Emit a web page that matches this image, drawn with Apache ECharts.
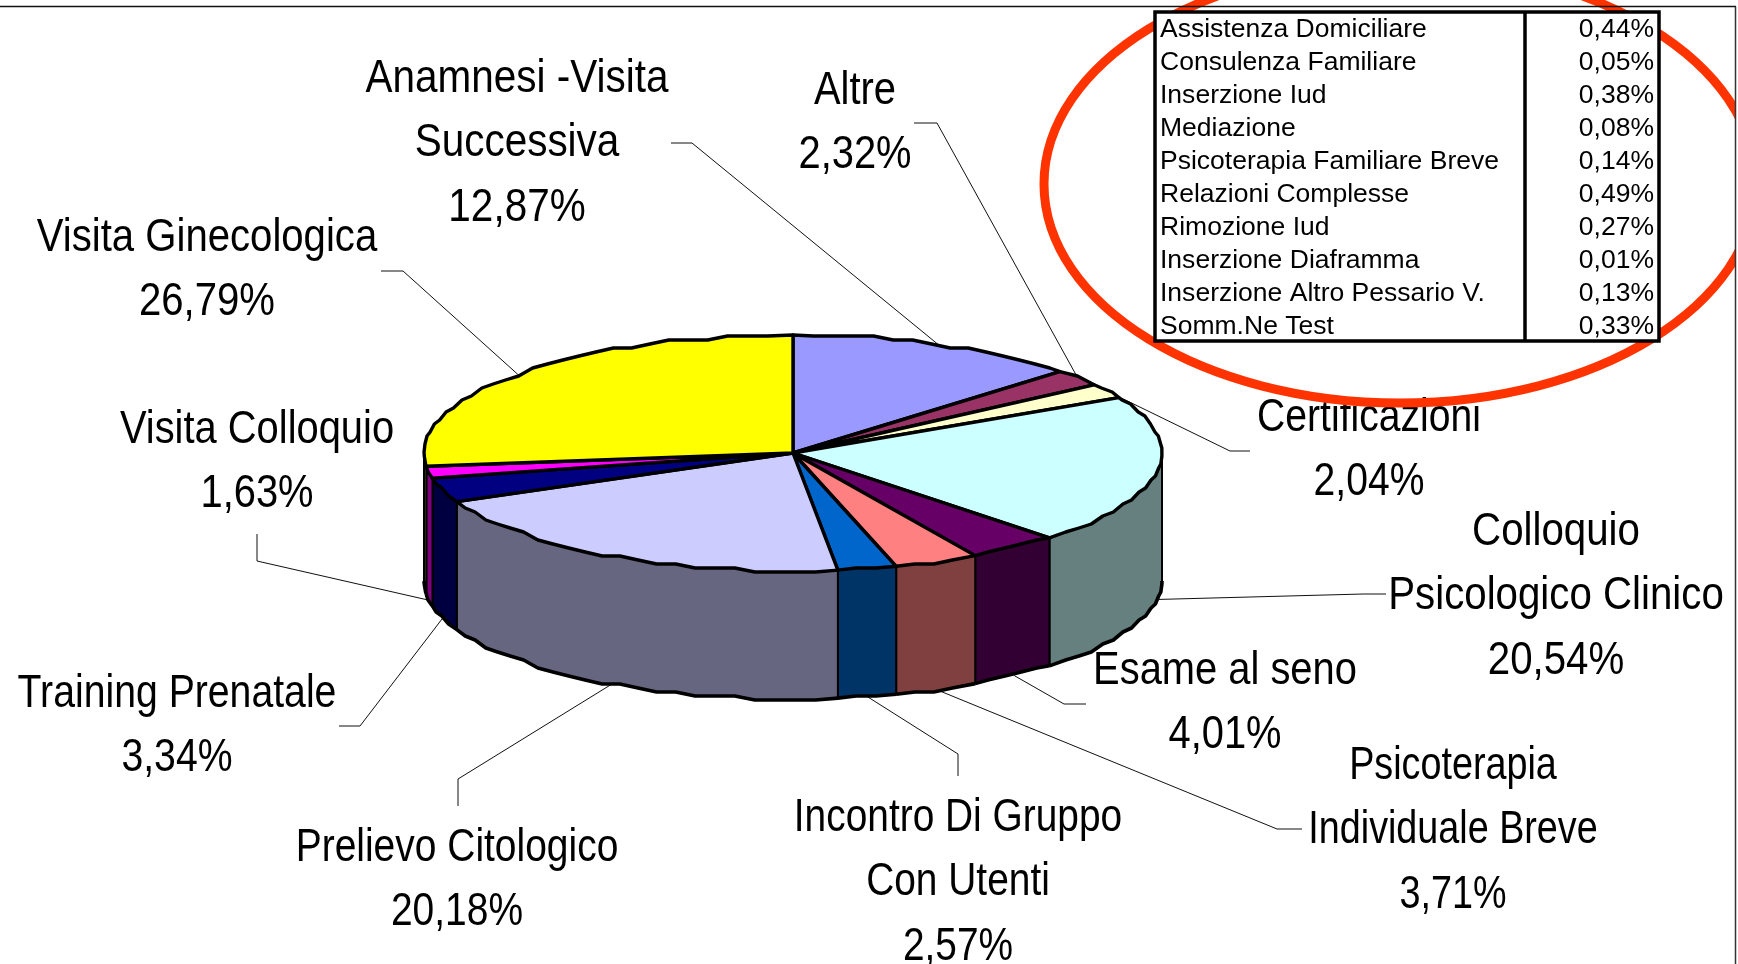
<!DOCTYPE html>
<html>
<head>
<meta charset="utf-8">
<style>html,body{margin:0;padding:0;background:#fff}#c{width:1738px;height:964px}</style>
<script src="https://cdn.jsdelivr.net/npm/echarts@6/dist/echarts.min.js"></script>
</head>
<body>
<div id="c"></div>
<script>
// ---- data ----
const categories = ['Anamnesi -Visita\nSuccessiva','Altre','Certificazioni','Colloquio\nPsicologico Clinico','Esame al seno','Psicoterapia\nIndividuale Breve','Incontro Di Gruppo\nCon Utenti','Prelievo Citologico','Training Prenatale','Visita Colloquio','Visita Ginecologica'];
const seriesValues = [12.87,2.32,2.04,20.54,4.01,3.71,2.57,20.18,3.34,1.63,26.79];
const sliceColors = ['#9999FF','#993366','#FFFFCC','#CCFFFF','#660066','#FF8080','#0066CC','#CCCCFF','#000080','#FF00FF','#FFFF00'];
const tableNames = ['Assistenza Domiciliare','Consulenza Familiare','Inserzione Iud','Mediazione','Psicoterapia Familiare Breve','Relazioni Complesse','Rimozione Iud','Inserzione Diaframma','Inserzione Altro Pessario V.','Somm.Ne Test'];
const tableValues = [0.44,0.05,0.38,0.08,0.14,0.49,0.27,0.01,0.13,0.33];

// ---- layout only ----
const PIE = {cx:793, cy:453, rx:369, ry:118, depth:128};
const labelCx = [517,855,1369,1556,1225,1453,958,457,177,257,207];
const labelBase = [102,114,441,555,694,789,841,871,717,453,261];
const labelScale = [.88,.867,.85,.875,.867,.82,.845,.847,.852,.867,.872];
const elbows = [
  [[692,143],[671,143]],
  [[937,123],[914,123]],
  [[1230,451],[1250,451]],
  [[1363,594],[1386,594]],
  [[1064,704],[1086,704]],
  [[1277,829],[1302,829]],
  [[958,754],[958,776]],
  [[458,779],[458,806]],
  [[360,726],[339,726]],
  [[257,561],[257,534]],
  [[403,271],[381,271]]
];
const LABEL_FONT = 46, LABEL_PITCH = 64.5;
const ARC_STEP = 0.055, STEP_Y = 4;

const fmt = v => v.toFixed(2).replace('.', ',') + '%';
const total = seriesValues.reduce((a,b)=>a+b,0);
const starts = [];
seriesValues.reduce((acc,v,i)=>{starts[i]=acc;return acc+v;},0);
const toAng = p => p/total*2*Math.PI;
const rim = (a,dz) => [PIE.cx+PIE.rx*Math.sin(a), PIE.cy-PIE.ry*Math.cos(a)+(dz||0)];
const darken = h => {
  const n=parseInt(h.slice(1),16);
  const c=[(n>>16)&255,(n>>8)&255,n&255].map(x=>Math.round(x/2));
  return 'rgb('+c.join(',')+')';
};
// rim arc, faceted and snapped in y to reproduce the stepped outline of the original
function arc(a0,a1,dz){
  const pts=[rim(a0,dz)];
  let k=Math.ceil(a0/ARC_STEP+0.3);
  while(k*ARC_STEP<a1-0.02){
    const p=rim(k*ARC_STEP,dz);
    pts.push([p[0],Math.round(p[1]/STEP_Y)*STEP_Y]);
    k++;
  }
  pts.push(rim(a1,dz));
  return pts;
}

const sideSeries = {
  type:'custom', coordinateSystem:'none', silent:true, z:3,
  data: seriesValues.map(v=>[v]),
  renderItem(params,api){
    const i=params.dataIndex;
    const a0=Math.max(toAng(starts[i]),Math.PI/2);
    const a1=Math.min(toAng(starts[i]+api.value(0)),1.5*Math.PI);
    if(a1<=a0) return {type:'group',children:[]};
    const bottom=arc(a0,a1,PIE.depth);
    const pts=arc(a0,a1,0).concat(bottom.slice().reverse());
    return {type:'group',children:[
      {type:'polygon',shape:{points:pts},style:{fill:darken(sliceColors[i]),stroke:'#000',lineWidth:2,lineJoin:'round'}},
      {type:'polyline',shape:{points:bottom},style:{fill:null,stroke:'#000',lineWidth:3.6,lineJoin:'round'}}
    ]};
  }
};
const topSeries = {
  type:'custom', coordinateSystem:'none', silent:true, z:4,
  data: seriesValues.map(v=>[v]),
  renderItem(params,api){
    const i=params.dataIndex;
    const a0=toAng(starts[i]), a1=toAng(starts[i]+api.value(0));
    const pts=[[PIE.cx,PIE.cy]].concat(arc(a0,a1,0));
    return {type:'polygon',shape:{points:pts},style:{fill:sliceColors[i],stroke:'#000',lineWidth:3.4,lineJoin:'round'}};
  }
};
const labelSeries = {
  type:'custom', coordinateSystem:'none', silent:true, z:2,
  data: seriesValues.map(v=>[v]),
  renderItem(params,api){
    const i=params.dataIndex, v=api.value(0);
    const mid=toAng(starts[i]+v/2);
    const front=Math.cos(mid)<0;
    const anchor=rim(mid,front?PIE.depth:0);
    const children=[{type:'polyline',shape:{points:[anchor].concat(elbows[i])},style:{fill:null,stroke:'#111',lineWidth:1}}];
    const lines=categories[i].split('\n').concat([fmt(v)]);
    lines.forEach((t,k)=>{
      children.push({type:'text',x:labelCx[i],y:labelBase[i]+k*LABEL_PITCH,scaleX:labelScale[i],
        style:{text:t,fill:'#000',font:LABEL_FONT+'px "Liberation Sans"',align:'center',verticalAlign:'bottom',lineHeight:LABEL_FONT}});
    });
    return {type:'group',children};
  }
};

// table + annotation ellipse
const T={x0:1155,x1:1659,xd:1525,y0:12,y1:341,tx:1160,vx:1654,base:37,pitch:33,font:26,sx:1.02};
const graphic=[
  {type:'ellipse',z:50,silent:true,shape:{cx:1400,cy:184,rx:356,ry:219},style:{fill:null,stroke:'#FF3300',lineWidth:9}},
  {type:'rect',z:65,silent:true,shape:{x:1735,y:0,width:3,height:964},style:{fill:'#fff'}},
  {type:'line',z:70,silent:true,shape:{x1:0,y1:6.5,x2:1736,y2:6.5},style:{stroke:'#111',lineWidth:1.5}},
  {type:'line',z:70,silent:true,shape:{x1:1735.5,y1:6.5,x2:1735.5,y2:964},style:{stroke:'#333',lineWidth:1.5}},
  {type:'rect',z:60,silent:true,shape:{x:T.x0,y:T.y0,width:T.x1-T.x0,height:T.y1-T.y0},style:{fill:'#fff',stroke:'#000',lineWidth:3.5}},
  {type:'line',z:61,silent:true,shape:{x1:T.xd,y1:T.y0,x2:T.xd,y2:T.y1},style:{stroke:'#000',lineWidth:3.5}}
];
tableNames.forEach((n,i)=>{
  const y=T.base+i*T.pitch;
  graphic.push({type:'text',z:62,silent:true,x:T.tx,y:y+6,scaleX:T.sx,style:{text:n,fill:'#000',font:T.font+'px "Liberation Sans"',align:'left',verticalAlign:'bottom'}});
  graphic.push({type:'text',z:62,silent:true,x:T.vx,y:y+6,scaleX:T.sx,style:{text:fmt(tableValues[i]),fill:'#000',font:T.font+'px "Liberation Sans"',align:'right',verticalAlign:'bottom'}});
});

const chart=echarts.init(document.getElementById('c'),null,{renderer:'canvas'});
chart.setOption({
  backgroundColor:'#fff',
  animation:false,
  tooltip:{show:false},
  series:[labelSeries,sideSeries,topSeries],
  graphic:{elements:graphic}
});
</script>
</body>
</html>
